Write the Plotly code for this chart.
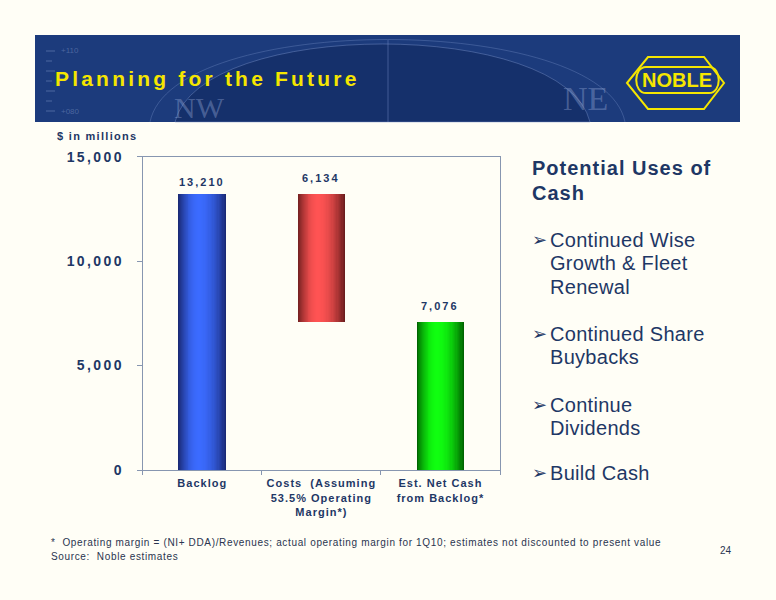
import json
import plotly.graph_objects as go

W, H = 776, 600

# ---------------- data ----------------
categories = ["Backlog",
              "Costs  (Assuming<br>53.5% Operating<br>Margin*)",
              "Est. Net Cash<br>from Backlog*"]
backlog = 13210
costs = 6134
net_cash = 7076
values = [backlog, costs, net_cash]
bases = [0, backlog - costs, 0]
y_ticks = [0, 5000, 10000, 15000]

title_text = "Planning for the Future"
unit_text = "$ in millions"
panel_heading = ["Potential Uses of", "Cash"]
bullets = [["Continued Wise", "Growth & Fleet", "Renewal"],
           ["Continued Share", "Buybacks"],
           ["Continue", "Dividends"],
           ["Build Cash"]]
footnote_1 = "*  Operating margin = (NI+ DDA)/Revenues; actual operating margin for 1Q10; estimates not discounted to present value"
footnote_2 = "Source:  Noble estimates"
page_no = "24"

# ---------------- styles ----------------
FONT = "Liberation Sans, Arial, sans-serif"
NAVY = "#1E3765"
YELLOW = "#F5E600"
BG = "#FFFEF6"
AXIS = "#8796B0"
edge_colors = ["#1A2A76", "#6B1D1D", "#006400"]
center_colors = ["#3B6BFF", "#FF5353", "#10FF10"]


def px(x):
    return x / W


def py(y):
    return 1 - y / H


def pt(x, y):
    return f"{px(x):.5f},{py(y):.5f}"


def mix(c1, c2, f):
    a = [int(c1[i:i + 2], 16) for i in (1, 3, 5)]
    b = [int(c2[i:i + 2], 16) for i in (1, 3, 5)]
    return "#" + "".join(f"{round(a[j] + (b[j] - a[j]) * f):02x}" for j in range(3))


fig = go.Figure()

# cylinder-like shaded bars: concentric layers, dark edges to bright highlight
N = 22
bar_w = 0.40
hl = 0.42
for k in range(N):
    t = k / N
    f = 1 - (1 - t) ** 2
    wk = bar_w * (1 - t)
    ok = -bar_w / 2 + t * hl * bar_w
    cols = [mix(edge_colors[i], center_colors[i], f) for i in range(3)]
    fig.add_trace(go.Bar(
        x=categories, y=values, base=bases,
        width=[wk] * 3, offset=[ok] * 3,
        marker=dict(color=cols, line=dict(width=0)),
        showlegend=False, hoverinfo="skip"))

annotations = []
spacing = []


def add_text(x, y, text, size, color=NAVY, bold=False, xanchor="left",
             yanchor="middle", ls=0.0, family=FONT, xref="paper", yref="paper",
             yshift=0, align=None):
    annotations.append(dict(
        x=x, y=y, xref=xref, yref=yref, text=text, showarrow=False,
        xanchor=xanchor, yanchor=yanchor, yshift=yshift,
        align=align or ("left" if xanchor == "left" else "center"),
        font=dict(family=family, size=size, color=color,
                  weight="bold" if bold else "normal")))
    spacing.append(ls)


# data labels
tops = [b + v for b, v in zip(bases, values)]
label_shift = [4, 8, 8]
for i in range(3):
    add_text(categories[i], tops[i], f"{values[i]:,}", 11, bold=True,
             xanchor="center", yanchor="bottom", ls=2.0, xref="x", yref="y",
             yshift=label_shift[i])

# header decorations text
add_text(px(200), py(108), "NW", 30, color="rgba(150,170,215,0.40)",
         xanchor="center", family="Liberation Serif, serif")
add_text(px(585), py(98), "NE", 34, color="rgba(150,170,215,0.40)",
         xanchor="center", family="Liberation Serif, serif")
for yy, lab in zip([51, 111], ["+110", "+080"]):
    add_text(px(59), py(yy), lab, 8, color="rgba(150,170,215,0.40)")

add_text(px(53), py(79), title_text, 21, color=YELLOW, bold=True, ls=3.2)
add_text(px(677), py(80), "NOBLE", 20, color=YELLOW, bold=True,
         xanchor="center")

add_text(px(55), py(136), unit_text, 11, bold=True, ls=1.3)

# right panel
add_text(px(530), py(168), panel_heading[0], 20, bold=True, ls=1.0)
add_text(px(530), py(193), panel_heading[1], 20, bold=True, ls=1.0)
bullet_y = [[240, 263, 287], [334, 357], [405, 428], [473]]
for lines, ys in zip(bullets, bullet_y):
    add_text(px(530), py(ys[0]), "\u27A2", 18)
    for line, yy in zip(lines, ys):
        add_text(px(548), py(yy), line, 20, ls=0.3)

add_text(px(49), py(542), footnote_1, 10, color="#2A3550", ls=0.65)
add_text(px(49), py(556), footnote_2, 10, color="#2A3550", ls=0.65)
add_text(px(726), py(550), page_no, 10, color="#2A3550", xanchor="center")

shapes = [
    # header band
    dict(type="rect", xref="paper", yref="paper", x0=px(35), x1=px(740),
         y0=py(122), y1=py(35), fillcolor="#1C3B7C", line=dict(width=0),
         layer="below"),
    # compass disc
    dict(type="path", xref="paper", yref="paper",
         path=f"M{pt(175,122)} C{pt(200,18)} {pt(565,18)} {pt(590,122)} Z",
         fillcolor="#15306B", line=dict(color="rgba(120,145,200,0.45)", width=1),
         layer="below"),
    dict(type="path", xref="paper", yref="paper",
         path=f"M{pt(150,122)} C{pt(172,12)} {pt(603,12)} {pt(625,122)}",
         line=dict(color="rgba(120,145,200,0.35)", width=1), layer="below"),
    dict(type="line", xref="paper", yref="paper", x0=px(388), x1=px(388),
         y0=py(122), y1=py(40), line=dict(color="rgba(120,145,200,0.45)", width=1),
         layer="below"),
    # logo
    dict(type="path", xref="paper", yref="paper",
         path=(f"M{pt(627,83)} L{pt(648,57)} L{pt(704,57)} L{pt(724,83)} "
               f"L{pt(704,109)} L{pt(648,109)} Z"),
         line=dict(color=YELLOW, width=2)),
    dict(type="path", xref="paper", yref="paper",
         path=(f"M{pt(646,67)} L{pt(709,67)} C{pt(722,67)} {pt(722,93)} {pt(709,93)} "
               f"L{pt(646,93)} C{pt(633,93)} {pt(633,67)} {pt(646,67)} Z"),
         line=dict(color=YELLOW, width=2)),
]
for yy in [51, 61, 71, 81, 91, 101, 111]:
    shapes.append(dict(type="line", xref="paper", yref="paper", x0=px(46),
                       x1=px(52 if yy % 20 == 1 else 55), y0=py(yy), y1=py(yy),
                       line=dict(color="rgba(150,170,215,0.40)", width=1),
                       layer="below"))

fig.update_layout(
    width=W, height=H, autosize=False,
    margin=dict(l=0, r=0, t=0, b=0, pad=0),
    paper_bgcolor=BG, plot_bgcolor=BG,
    barmode="overlay", bargap=0,
    showlegend=False,
    font=dict(family=FONT, color=NAVY),
    xaxis=dict(domain=[px(142.7), px(500)], type="category",
               range=[-0.5, 2.5], showline=True, mirror=True,
               linecolor=AXIS, linewidth=1, ticks="outside",
               tickson="boundaries", ticklen=4, tickcolor=AXIS,
               showgrid=False, ticklabelstandoff=3, automargin=False,
               tickfont=dict(family=FONT, size=11, color=NAVY, weight="bold")),
    yaxis=dict(domain=[py(470), py(156.7)], range=[0, 15000],
               tickvals=y_ticks, tickformat=",", showline=True, mirror=True,
               linecolor=AXIS, linewidth=1, ticks="outside", ticklen=5,
               tickcolor=AXIS, showgrid=False, zeroline=False,
               ticklabelstandoff=10, automargin=False,
               tickfont=dict(family=FONT, size=14, color=NAVY, weight="bold")),
    annotations=annotations,
    shapes=shapes,
)

post = """
document.documentElement.style.margin = '0';
document.documentElement.style.overflow = 'hidden';
document.body.style.margin = '0';
document.body.style.padding = '0';
document.body.style.overflow = 'hidden';
var gd = document.getElementById('{plot_id}');
var sp = %s;
gd.querySelectorAll('g.annotation').forEach(function(g){
  var i = parseInt(g.getAttribute('data-index'));
  var t = g.querySelector('text.annotation-text');
  if (t && sp[i]) { t.style.letterSpacing = sp[i] + 'px'; }
});
gd.querySelectorAll('g.xtick text').forEach(function(t){ t.style.letterSpacing = '1px'; });
gd.querySelectorAll('g.ytick text').forEach(function(t){ t.style.letterSpacing = '2.4px'; });
""" % json.dumps(spacing)

fig.write_html("out.html", post_script=post,
               config=dict(displayModeBar=False, staticPlot=True, responsive=False))
